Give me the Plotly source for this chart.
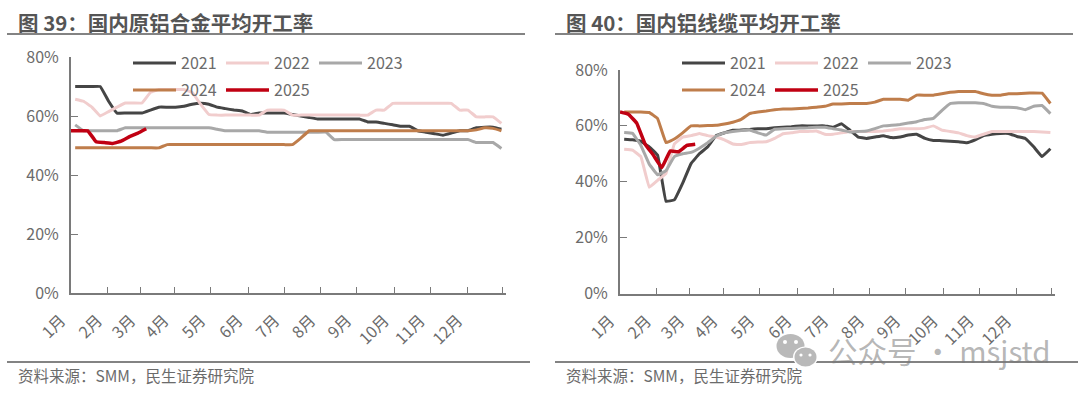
import plotly.graph_objects as go

years = ["2021", "2022", "2023", "2024", "2025"]
colors = {"2021": "#454545", "2022": "#f1cdcd", "2023": "#a8a8a8", "2024": "#bf7d4b", "2025": "#c00012"}
widths = {"2021": 3, "2022": 3, "2023": 3, "2024": 3, "2025": 3.5}
months = ["1月", "2月", "3月", "4月", "5月", "6月", "7月", "8月", "9月", "10月", "11月", "12月", ""]
month_ticks = [-0.5, 3.88, 7.87, 11.85, 16.25, 20.7, 25.1, 29.4, 33.7, 38.2, 42.5, 47.0, 51.1]
y_ticks = [0, 20, 40, 60, 80]
y_labels = ["0%", "20%", "40%", "60%", "80%"]

alloy_2021 = [70, 70, 70, 70, 65, 61, 61, 61, 61, 62, 63, 63, 63, 63.3, 64, 64.3, 64, 63, 62.5, 62, 61.7, 60.5, 61, 61, 61, 61,
              60.5, 60, 59.5, 59, 59, 59, 59, 59, 59, 58, 58, 57.5, 57, 56.5, 56.5, 55, 54.5, 54, 53.5, 54.2, 55, 55, 56, 56.2, 56.2, 55.5]
alloy_2022 = [65.7, 65, 63, 60, 61.5, 63, 64.4, 64.4, 64.4, 68, 69, 69, 69, 69, 68, 64, 60.5, 60.3, 60.3, 60.3, 60.3, 60.3, 60.3, 62, 62, 62,
              60.3, 60.3, 60.3, 60.3, 60.3, 60.3, 60.3, 60.3, 60.3, 60.3, 62, 62, 64.3, 64.3, 64.3, 64.3, 64.3, 64.3, 64.3, 64.3, 62, 62, 59.7, 59.7, 59.7, 57.5]
alloy_2023 = [57, 55, 55, 55, 55, 55, 56, 56, 56, 56, 56, 56, 56, 56, 56, 56, 56, 55.5, 55, 55, 55, 55, 55, 54.5, 54.5, 54.5,
              54.5, 54.5, 54.5, 54.5, 54.5, 52, 52, 52, 52, 52, 52, 52, 52, 52, 52, 52, 52, 52, 52, 52, 52, 52, 51, 51, 51, 49]
alloy_2024 = [49.2, 49.2, 49.2, 49.2, 49.2, 49.2, 49.2, 49.2, 49.2, 49.2, 49.2, 50.3, 50.3, 50.3, 50.3, 50.3, 50.3, 50.3, 50.3, 50.3, 50.3, 50.3, 50.3, 50.3, 50.3, 50.3,
              50.3, 52.5, 55, 55, 55, 55, 55, 55, 55, 55, 55, 55, 55, 55, 55, 55, 55, 55, 55, 55, 55, 55, 55.3, 56, 55.8, 55]
alloy_2025 = [55, 55, 55, 51.3, 51, 50.7, 51.5, 53, 54.2, 55.7]

cable_2021 = [55.2, 55, 54.5, 52.5, 49.5, 33, 33.5, 39.5, 46.5, 50, 52.5, 56.5, 57.5, 58.4, 58.5, 58.7, 59, 59, 59.3, 59.5, 59.7, 60, 60, 60, 60, 59.5,
              60.8, 58.5, 56, 55.5, 56, 56.5, 55.8, 56, 56.7, 57, 55.5, 54.8, 54.7, 54.5, 54.3, 54, 55, 56.5, 57, 57.3, 57.3, 56.2, 55.5, 52.5, 49, 51.8]
cable_2022 = [51.6, 51.3, 49, 38, 40.5, 43, 53.5, 56, 56.5, 57.3, 56.5, 56, 55, 53.5, 53.3, 54, 54.2, 54.3, 55.5, 57.2, 57.5, 58, 58, 58.2, 57, 57,
              57.5, 58, 58, 58, 58, 58.2, 58.5, 59, 59, 59, 59.2, 60, 58.5, 58, 57.5, 56.5, 56, 57, 58, 58, 58, 58, 58, 58, 57.8, 57.6]
cable_2023 = [57.6, 57.3, 53, 46.3, 42.5, 44, 49, 50, 50.5, 52, 54, 56.3, 57.5, 58, 58.3, 58.5, 57.5, 56.7, 58.8, 59, 59.1, 59.2, 59.3, 59.5, 59.5, 59,
              58.5, 57.8, 58, 58.2, 59, 60, 60.2, 60.5, 61, 61.5, 62.3, 62.7, 65.5, 68, 68.3, 68.3, 68.3, 68, 67, 66.7, 66.7, 66.5, 65.8, 67, 67.3, 64.4]
cable_2024 = [65, 65, 65, 64.8, 62.6, 54, 55.3, 57.5, 60, 60, 60.1, 60.2, 60.7, 61.3, 62.3, 64.4, 65, 65.3, 65.8, 66, 66, 66.2, 66.4, 66.7, 67, 67.8,
              67.8, 68, 68, 68, 68.5, 69.5, 69.5, 69.5, 69.2, 71, 71, 71, 71.5, 72, 72.3, 72.3, 72.3, 71.5, 71, 71, 71.5, 71.5, 71.7, 71.8, 71.7, 68]
cable_2025 = [65, 64.2, 61, 53.5, 49.5, 45, 51, 50.7, 53, 53.4]

alloy = dict(zip(years, [alloy_2021, alloy_2022, alloy_2023, alloy_2024, alloy_2025]))
cable = dict(zip(years, [cable_2021, cable_2022, cable_2023, cable_2024, cable_2025]))

W, H = 1080, 393
FONT = "Noto Sans CJK SC"
TEXT = "#6b6b6b"
AXIS = "#7a7a7a"

fig = go.Figure()


def add_panel(data, n, row1, row2):
    for y in years:
        vals = data[y]
        if y == "2025":
            xs = [i - 0.5 for i in range(len(vals))]
        else:
            xs = list(range(len(vals)))
        fig.add_trace(go.Scatter(
            x=xs, y=vals, name=y, mode="lines",
            line=dict(color=colors[y], width=widths[y], shape="spline", smoothing=0.2),
            xaxis=f"x{n}" if n > 1 else "x", yaxis=f"y{n}" if n > 1 else "y",
            legend=row1 if y in ("2021", "2022", "2023") else row2,
        ))


add_panel(alloy, 1, "legend", "legend2")
add_panel(cable, 2, "legend3", "legend4")


def xaxis(dom, anchor):
    return dict(domain=[dom[0] / W, dom[1] / W], range=[-0.5, 51.55], anchor=anchor,
                tickmode="array", tickvals=month_ticks, ticktext=months, ticks="inside", ticklen=6,
                tickwidth=1.3, tickcolor=AXIS, showline=True, linecolor=AXIS, linewidth=1.5,
                showgrid=False, zeroline=False, tickangle=-45, ticklabelstandoff=10, ticklabelshift=-10,
                tickfont=dict(family=FONT, size=16, color=TEXT))


def yaxis(top, bottom, anchor):
    return dict(domain=[(H - bottom) / H, (H - top) / H], range=[0, 80], anchor=anchor,
                tickmode="array", tickvals=y_ticks, ticktext=y_labels, ticks="inside", ticklen=7,
                tickwidth=1.3, tickcolor=AXIS, showline=True, linecolor=AXIS, linewidth=2,
                showgrid=False, zeroline=False, ticklabelstandoff=7,
                tickfont=dict(family=FONT, size=16, color=TEXT))


def legend(x, py):
    return dict(orientation="h", x=x / W, y=(H - py) / H, xanchor="left", yanchor="middle",
                entrywidth=35, entrywidthmode="pixels", itemwidth=43, bgcolor="rgba(0,0,0,0)",
                font=dict(family=FONT, size=16, color=TEXT), itemclick=False, itemdoubleclick=False)


def rule(x0, x1, py, width=1.6):
    return dict(type="line", xref="paper", yref="paper", x0=x0 / W, x1=x1 / W, y0=(H - py) / H, y1=(H - py) / H,
                line=dict(color="#5a5a5a", width=width), layer="below")


def blob(cx, cy, rx, ry, color):
    return dict(type="circle", xref="paper", yref="paper", x0=(cx - rx) / W, x1=(cx + rx) / W,
                y0=(H - cy - ry) / H, y1=(H - cy + ry) / H, fillcolor=color, line=dict(width=0), layer="above")


def text(s, px, py, size, color, bold=False, anchor="left"):
    return dict(text=f"<b>{s}</b>" if bold else s, xref="paper", yref="paper", x=px / W, y=(H - py) / H,
                xanchor=anchor, yanchor="middle", showarrow=False,
                font=dict(family=FONT, size=size, color=color))


shapes = [
    rule(7, 525, 34), rule(555, 1073, 34), rule(7, 530, 362), rule(555, 1078, 362),
    blob(790.5, 346, 14, 12, "#b9b9b9"), blob(805.5, 357, 12.5, 10.5, "#ffffff"), blob(805.5, 357, 11, 9.5, "#b9b9b9"),
    blob(785, 342, 2, 2, "#ffffff"), blob(796, 342, 2, 2, "#ffffff"),
    blob(801, 355, 1.6, 1.6, "#ffffff"), blob(810, 355, 1.6, 1.6, "#ffffff"),
]
annotations = [
    text("图 39：国内原铝合金平均开工率", 16, 22, 20.5, "#555555", bold=True),
    text("图 40：国内铝线缆平均开工率", 564, 22, 20.5, "#555555", bold=True),
    text("资料来源：SMM，民生证券研究院", 16, 375, 15.5, TEXT),
    text("资料来源：SMM，民生证券研究院", 564, 375, 15.5, TEXT),
    text("公众号 · msjstd", 826, 350, 29.5, "rgba(120,120,120,0.55)"),
]

fig.update_layout(
    width=W, height=H, autosize=False, margin=dict(l=0, r=0, t=0, b=0, autoexpand=False),
    paper_bgcolor="white", plot_bgcolor="rgba(0,0,0,0)",
    showlegend=True,
    xaxis=xaxis((71, 506), "y"), yaxis=yaxis(57, 293, "x"),
    xaxis2=xaxis((620, 1055), "y2"), yaxis2=yaxis(70, 293.5, "x2"),
    legend=legend(128, 63), legend2=legend(128, 90),
    legend3=legend(677, 63), legend4=legend(677, 90),
    shapes=shapes, annotations=annotations,
)

fig.write_html("out.html", config={"displayModeBar": False},
               post_script="document.body.style.margin='0';document.body.style.overflow='hidden';")
